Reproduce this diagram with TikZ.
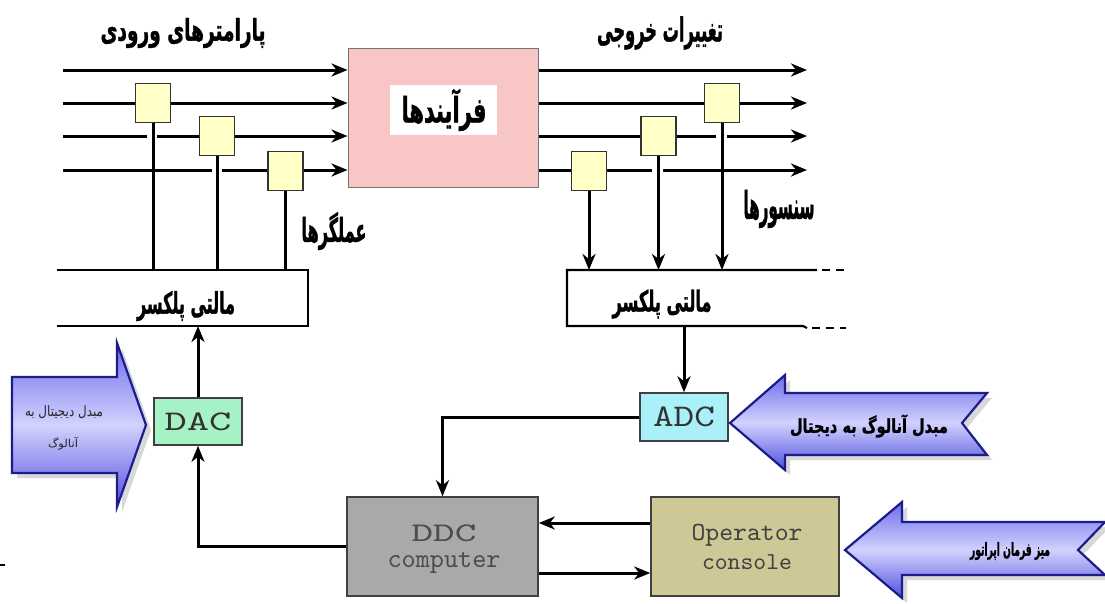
\documentclass[tikz,border=0pt]{standalone}
\usepackage{fontspec}
\usepackage{graphicx}
\usetikzlibrary{arrows.meta,shadows,calc}
\newfontfamily\fafont[Script=Arabic,FakeBold=1.5]{DejaVu Sans Bold}
\newfontfamily\faplainfont[Script=Arabic]{DejaVu Sans}
\TeXXeTstate=1

\definecolor{procpink}{HTML}{F9C6C6}
\definecolor{unityellow}{HTML}{FFFFC8}
\definecolor{dacgreen}{HTML}{A6F2C4}
\definecolor{adccyan}{HTML}{AAF0F8}
\definecolor{ddcgray}{HTML}{A9A9A9}
\definecolor{conkhaki}{HTML}{CDC896}
\definecolor{arrowedge}{HTML}{1C1C8C}
\definecolor{arrowtop}{HTML}{6C6CEA}
\definecolor{arrowmid}{HTML}{D2D2FF}
\definecolor{arrowbot}{HTML}{5050DE}

% Persian label squeezed to a given width and total height
\newcommand{\fatext}[3]{\resizebox*{#1}{#2}{\fafont #3}}
\newcommand{\faplain}[3]{\resizebox*{#1}{#2}{\faplainfont #3}}
\newcommand{\latintext}[3]{\resizebox*{#1}{#2}{\ttfamily #3}}

\begin{document}
\begin{tikzpicture}[x=1pt,y=-1pt,
  wire/.style={line width=3pt,black},
  tip/.style={-{Stealth[length=16pt,width=13pt,inset=5pt]}},
  muxline/.style={line width=2.2pt,black},
  unit/.style={draw=black!80,line width=1.4pt,fill=unityellow,
    minimum width=35pt,minimum height=39pt,inner sep=0},
  box/.style={draw=black!75,line width=1.6pt,inner sep=0},
  falabel/.style={inner sep=0},
  blockarrow/.style={draw=arrowedge,line width=2.2pt,line join=miter,
    top color=arrowtop,bottom color=arrowbot,middle color=arrowmid,
    drop shadow={shadow xshift=5pt,shadow yshift=-5pt,opacity=0.3}}]

\useasboundingbox[fill=white] (0,0) rectangle (1105,603);

% ---------- process block ----------
\node[box,draw=black!55,line width=1pt,fill=procpink,minimum width=190pt,minimum height=139pt] (proc) at (443,117.5) {};
\node[fill=white,minimum width=107pt,minimum height=50pt,inner sep=0] (procbg) at (443.5,110) {};

% ---------- input parameter lines ----------
\coordinate (i1) at (63,70);
\coordinate (i2) at (63,103);
\coordinate (i3) at (63,136);
\coordinate (i4) at (63,170);
\draw[wire,tip] (i1) -- (proc.west |- i1);
\draw[wire,tip] (i2) -- (proc.west |- i2);
\draw[wire] (i3) -- (147,136);
\draw[wire,tip] (157,136) -- (proc.west |- i3);
\draw[wire] (i4) -- (212,170);
\draw[wire,tip] (222,170) -- (proc.west |- i4);

% ---------- output lines ----------
\coordinate (o1) at (807,70);
\coordinate (o2) at (807,103);
\coordinate (o3) at (807,136);
\coordinate (o4) at (807,170);
\draw[wire,tip] (proc.east |- o1) -- (o1);
\draw[wire,tip] (proc.east |- o2) -- (o2);
\draw[wire] (proc.east |- o3) -- (716,136);
\draw[wire,tip] (727,136) -- (o3);
\draw[wire] (proc.east |- o4) -- (652,170);
\draw[wire,tip] (663,170) -- (o4);

% ---------- actuators and sensors ----------
\node[unit] (a1) at (153,103) {};
\node[unit] (a2) at (217,136) {};
\node[unit] (a3) at (285.5,171) {};
\node[unit] (s1) at (589,171) {};
\node[unit] (s2) at (658.5,136) {};
\node[unit] (s3) at (722,103) {};

% ---------- multiplexers ----------
\coordinate (mlTL) at (57,270);
\coordinate (mlTR) at (308,270);
\coordinate (mlBR) at (308,326);
\coordinate (mlBL) at (57,326);
\draw[muxline] (mlTL) -- (mlTR) -- (mlBR) -- (mlBL);

\coordinate (mrTL) at (567,270);
\coordinate (mrBL) at (567,326);
\coordinate (mrTR) at (817,270);
\coordinate (mrBR) at (803,326);
\draw[muxline] (mrTR) -- (mrTL) -- (mrBL) -- (mrBR) -- ++(4,2);
\draw[muxline,dash pattern=on 8pt off 6pt] (822,270) -- (846,270);
\draw[muxline,dash pattern=on 8pt off 6pt] (812,328) -- (846,328);

% actuator and sensor connections
\draw[wire] (a1.south) -- (a1.south |- mlTL);
\draw[wire] (a2.south) -- (a2.south |- mlTL);
\draw[wire] (a3.south) -- (a3.south |- mlTL);
\draw[wire,tip] (s1.south) -- (s1.south |- mrTL);
\draw[wire,tip] (s2.south) -- (s2.south |- mrTL);
\draw[wire,tip] (s3.south) -- (s3.south |- mrTL);

% ---------- converters and computer ----------
\node[box,fill=dacgreen,minimum width=88pt,minimum height=47pt] (dac) at (198,421.5)
  {\textcolor{black!80}{\latintext{67pt}{18pt}{DAC}}};
\node[box,fill=adccyan,minimum width=88pt,minimum height=48pt] (adc) at (684,417)
  {\textcolor{black!80}{\latintext{62pt}{20pt}{ADC}}};
\node[box,fill=ddcgray,minimum width=191pt,minimum height=99pt] (ddc) at (442.5,546.5) {};
\node[box,fill=conkhaki,minimum width=188pt,minimum height=99pt] (con) at (745,546.5) {};

\node[inner sep=0,text=black!70] (ddct1) at (444,533) {\latintext{65pt}{17pt}{DDC}};
\node[inner sep=0,text=black!70] (ddct2) at (444,563) {\latintext{113pt}{21pt}{computer}};
\node[inner sep=0,text=black!75] (cont1) at (747,535) {\latintext{111pt}{22pt}{Operator}};
\node[inner sep=0,text=black!75] (cont2) at (747,562) {\latintext{90pt}{15pt}{console}};

\coordinate (cu) at (0,523);
\coordinate (cd) at (0,573);
\draw[wire,tip] (mrBL -| adc.north) -- (adc.north);
\draw[wire,tip] (adc.west) -| (ddc.north);
\draw[wire,tip] (con.west |- cu) -- (ddc.east |- cu);
\draw[wire,tip] (ddc.east |- cd) -- (con.west |- cd);
\draw[wire,tip] (ddc.west) -| (dac.south);
\draw[wire,tip] (dac.north) -- (dac.north |- mlBR);

% ---------- block arrows ----------
\draw[blockarrow] (12,377) -- (117,377) -- (117,343) -- (146,425) -- (117,507)
  -- (117,473) -- (12,473) -- cycle;
\draw[blockarrow] (730,423) -- (785,375) -- (785,393) -- (987,393) -- (962,423)
  -- (987,455) -- (785,455) -- (785,470) -- cycle;
\draw[blockarrow] (845,550) -- (902,502) -- (902,522) -- (1105,522) -- (1078,550)
  -- (1105,575) -- (902,575) -- (902,598) -- cycle;

% ---------- labels ----------
\node[falabel] (tin) at (183,33) {\fatext{165pt}{30pt}{\beginR پارامترهای ورودی\endR}};
\node[falabel] (tout) at (660,33) {\fatext{126pt}{33pt}{\beginR تغییرات خروجی\endR}};
\node[falabel] (tproc) at (444,110) {\fatext{85pt}{42pt}{\beginR فرآیندها\endR}};
\node[falabel] (tact) at (334,231) {\fatext{65pt}{38pt}{\beginR عملگرها\endR}};
\node[falabel] (tsen) at (779,209) {\fatext{71pt}{38pt}{\beginR سنسورها\endR}};
\node[falabel] (tmuxl) at (186,306) {\fatext{98pt}{30pt}{\beginR مالتی پلکسر\endR}};
\node[falabel] (tmuxr) at (662,304) {\fatext{99pt}{29pt}{\beginR مالتی پلکسر\endR}};
\node[falabel] (tadc) at (869,426) {\fatext{158pt}{23pt}{\beginR مبدل آنالوگ به دیجتال\endR}};
\node[falabel] (tcon) at (1010,551) {\fatext{80pt}{18pt}{\beginR میز فرمان اپراتور\endR}};
\node[falabel,text=black!85] (tdac1) at (64,412) {\faplain{78pt}{13pt}{\beginR مبدل دیجیتال به\endR}};
\node[falabel,text=black!85] (tdac2) at (63,444) {\faplain{30pt}{13pt}{\beginR آنالوگ\endR}};

% stray mark at the left edge
\coordinate (mk) at (0,565);
\draw[line width=2pt] (mk) -- ++(5,0);
\end{tikzpicture}
\end{document}
